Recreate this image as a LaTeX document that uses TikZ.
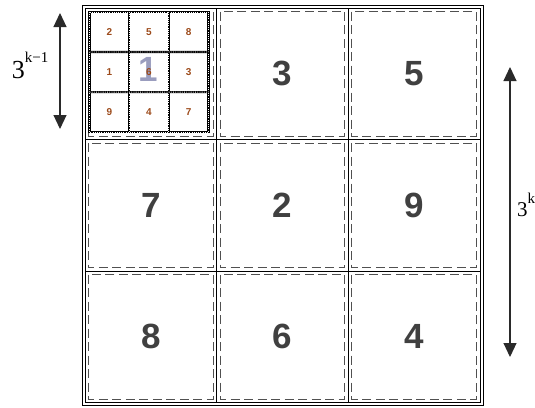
\documentclass[tikz,border=0pt]{standalone}
\usepackage{fontspec}
\setmainfont{Liberation Serif}
\newfontfamily\numfont{Liberation Sans}
\usepackage{xcolor}
\usepackage{tikz}
\usetikzlibrary{arrows.meta, positioning, matrix}
\definecolor{bignum}{HTML}{404040}
\definecolor{subnum}{HTML}{9C4A1A}
\definecolor{ghost}{HTML}{9A9DBE}
\definecolor{dashgray}{HTML}{505050}
\definecolor{arrgray}{HTML}{2A2A2A}
\tikzset{
  cell/.style={rectangle, draw=black, line width=0.9pt, minimum width=131.67pt, minimum height=131.57pt, inner sep=0pt, outer sep=0pt, font=\numfont\bfseries\fontsize{35}{35}\selectfont, text=bignum},
  inset/.style={draw=dashgray, line width=0.9pt, dash pattern=on 9pt off 4.5pt},
  subline/.style={draw=black, line width=2.2pt, postaction={draw=white, line width=0.8pt, dash pattern=on 0.8pt off 1.4pt}},
  subcell/.style={minimum width=39.67pt, minimum height=40pt, inner sep=0pt, outer sep=0pt, font=\numfont\bfseries\fontsize{10}{10}\selectfont, text=subnum},
  arr/.style={{Triangle[length=14pt,width=13pt]}-{Triangle[length=14pt,width=13pt]}, line width=1.1pt, arrgray},
  powlabel/.style={inner sep=0pt, outer sep=0pt, text=black},
}

\begin{document}
\begin{tikzpicture}[x=1pt, y=-1pt]
\useasboundingbox (0,0) rectangle (535,407);
% outer frame
\draw[line width=0.9pt] (82,5) rectangle (483,405.5);
% big cells
\node[cell] (c1) at (150.83,73.8) {};
\foreach \n/\col/\row in {3/1/0, 5/2/0, 7/0/1, 2/1/1, 9/2/1, 8/0/2, 6/1/2, 4/2/2}
  \node[cell] (c\n) at ({150.83+131.67*\col},{73.8+131.57*\row}) {\n};
\foreach \n in {1,...,9}
  \draw[inset] ([shift={(3.5,3.5)}]c\n.north west) rectangle ([shift={(-3.5,-3.5)}]c\n.south east);
% level k-1 inside cell 1
\node[font=\numfont\bfseries\fontsize{35}{35}\selectfont, text=ghost] (one) at (148,69.5) {1};
\matrix[matrix of nodes, ampersand replacement=\&, nodes={subcell},
  column sep=0pt, row sep=0pt, inner sep=0pt, outer sep=0pt, anchor=north west] (sub) at (89.5,12) {
  2 \& 5 \& 8 \\
  1 \& 6 \& 3 \\
  9 \& 4 \& 7 \\
};
\draw[subline] (sub-1-1.north west) rectangle (sub-3-3.south east);
\foreach \c in {1,2}
  \draw[subline] (sub-1-\c.north east) -- (sub-3-\c.south east);
\foreach \r in {1,2}
  \draw[subline] (sub-\r-1.south west) -- (sub-\r-3.south east);
% size arrows
\coordinate (ltop) at (60,13);
\coordinate (lbot) at (60,129);
\draw[arr] (ltop) -- (lbot);
\node[powlabel, anchor=base west] (lsize) at (12,78)
  {{\fontsize{26}{26}\selectfont 3}\raisebox{16pt}{\fontsize{15}{15}\selectfont k−1}};
\coordinate (rtop) at (510,67);
\coordinate (rbot) at (510,357);
\draw[arr] (rtop) -- (rbot);
\node[powlabel, anchor=base west] (rsize) at (517,216)
  {{\fontsize{21}{21}\selectfont 3}\raisebox{13pt}{\fontsize{15}{15}\selectfont k}};
\end{tikzpicture}
\end{document}
